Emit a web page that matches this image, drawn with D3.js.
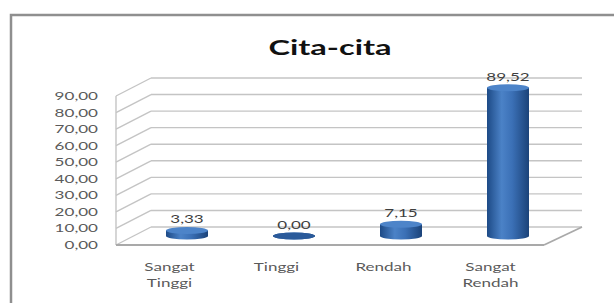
<!DOCTYPE html>
<html>
<head>
<meta charset="UTF-8">
<title>Cita-cita</title>
<script src="https://cdn.jsdelivr.net/npm/d3@7"></script>
<style>
  body { margin: 0; background: #fff; }
  svg { display: block; }
</style>
</head>
<body>
<div id="chart"></div>
<script>
// data
var categories = ["Sangat Tinggi", "Tinggi", "Rendah", "Sangat Rendah"];
var categoryLines = [["Sangat", "Tinggi"], ["Tinggi"], ["Rendah"], ["Sangat", "Rendah"]];
var values = [3.33, 0.00, 7.15, 89.52];
var yTicks = [0, 10, 20, 30, 40, 50, 60, 70, 80, 90];
var title = "Cita-cita";

var width = 614, height = 303;
var depthX = 35, depthY = -18;   // 3d wall offset
var sx = 1.55;                   // text looks stretched sideways in the picture

var fmt = function (v) { return d3.format(".2f")(v).replace(".", ","); };

var svg = d3.select("#chart").append("svg")
    .attr("width", width).attr("height", height);

var x = d3.scaleBand().domain(categories).range([116, 544]);
var y = d3.scaleLinear().domain([0, 90]).range([245, 96]);

var defs = svg.append("defs");
var grad = defs.append("linearGradient").attr("id", "cyl")
    .attr("x1", "0%").attr("x2", "100%").attr("y1", "0%").attr("y2", "0%");
grad.append("stop").attr("offset", "0%").attr("stop-color", "#1d4a86");
grad.append("stop").attr("offset", "35%").attr("stop-color", "#4b82c7");
grad.append("stop").attr("offset", "60%").attr("stop-color", "#3b70b6");
grad.append("stop").attr("offset", "100%").attr("stop-color", "#1b4379");

// frame
svg.append("rect")
    .attr("x", 11).attr("y", 15).attr("width", 700).attr("height", 400)
    .attr("fill", "none").attr("stroke", "#8f8f8f").attr("stroke-width", 2.5);

function stretchedText(g, tx, ty, txt) {
    return g.append("text")
        .attr("transform", "translate(" + tx + "," + ty + ") scale(" + sx + ",1)")
        .text(txt);
}

// title
var tt = svg.append("g")
    .attr("font-family", "Lato, sans-serif").attr("font-weight", "bold")
    .attr("font-size", 21).attr("fill", "#111").attr("text-anchor", "middle");
stretchedText(tt, 330, 55, title);

// walls and gridlines
var grid = svg.append("g").attr("stroke", "#c4c4c4").attr("stroke-width", 1.4).attr("fill", "none");
grid.selectAll("line.side").data(yTicks).enter().append("line")
    .attr("x1", x.range()[0]).attr("y1", function (d) { return y(d); })
    .attr("x2", x.range()[0] + depthX).attr("y2", function (d) { return y(d) + depthY; });
grid.selectAll("line.back").data(yTicks).enter().append("line")
    .attr("x1", x.range()[0] + depthX).attr("y1", function (d) { return y(d) + depthY; })
    .attr("x2", x.range()[1] + depthX + 3).attr("y2", function (d) { return y(d) + depthY; });
grid.append("line")
    .attr("x1", x.range()[0]).attr("y1", y(0))
    .attr("x2", x.range()[0]).attr("y2", y(90));

// floor
var floor = svg.append("g").attr("stroke", "#a9a9a9").attr("stroke-width", 1.8).attr("fill", "none");
floor.append("line")
    .attr("x1", x.range()[0]).attr("y1", y(0))
    .attr("x2", x.range()[1]).attr("y2", y(0));
floor.append("line")
    .attr("x1", x.range()[1]).attr("y1", y(0))
    .attr("x2", x.range()[1] + depthX + 3).attr("y2", y(0) + depthY);

// y labels
var yl = svg.append("g")
    .attr("font-family", "Lato, sans-serif").attr("font-size", 11)
    .attr("fill", "#5a5a5a").attr("text-anchor", "end");
yTicks.forEach(function (d) { stretchedText(yl, 98, y(d) + 4, fmt(d)); });

// cylinders
var rx = 21, ry = 3.5;
var bars = svg.append("g");
categories.forEach(function (c, i) {
    var cx = x(c) + x.bandwidth() / 2 + depthX / 2;
    var base = y(0) + depthY / 2;
    var top = y(values[i]) + depthY / 2;
    var g = bars.append("g");
    g.append("ellipse").attr("cx", cx).attr("cy", base).attr("rx", rx).attr("ry", ry)
        .attr("fill", "url(#cyl)");
    g.append("rect").attr("x", cx - rx).attr("y", top).attr("width", rx * 2).attr("height", base - top)
        .attr("fill", "url(#cyl)");
    g.append("ellipse").attr("cx", cx).attr("cy", top).attr("rx", rx).attr("ry", ry)
        .attr("fill", values[i] > 0 ? "#4d84c9" : "#2a5a9a");
});

// value labels
var vl = svg.append("g")
    .attr("font-family", "Lato, sans-serif").attr("font-size", 11)
    .attr("fill", "#3f3f3f").attr("text-anchor", "middle");
categories.forEach(function (c, i) {
    var cx = x(c) + x.bandwidth() / 2 + depthX / 2;
    stretchedText(vl, cx, y(values[i]) + depthY / 2 - 7, fmt(values[i]));
});

// category labels
var xl = svg.append("g")
    .attr("font-family", "Lato, sans-serif").attr("font-size", 11)
    .attr("fill", "#5a5a5a").attr("text-anchor", "middle");
categories.forEach(function (c, i) {
    categoryLines[i].forEach(function (line, j) {
        stretchedText(xl, x(c) + x.bandwidth() / 2, 271 + j * 16, line);
    });
});
</script>
</body>
</html>
